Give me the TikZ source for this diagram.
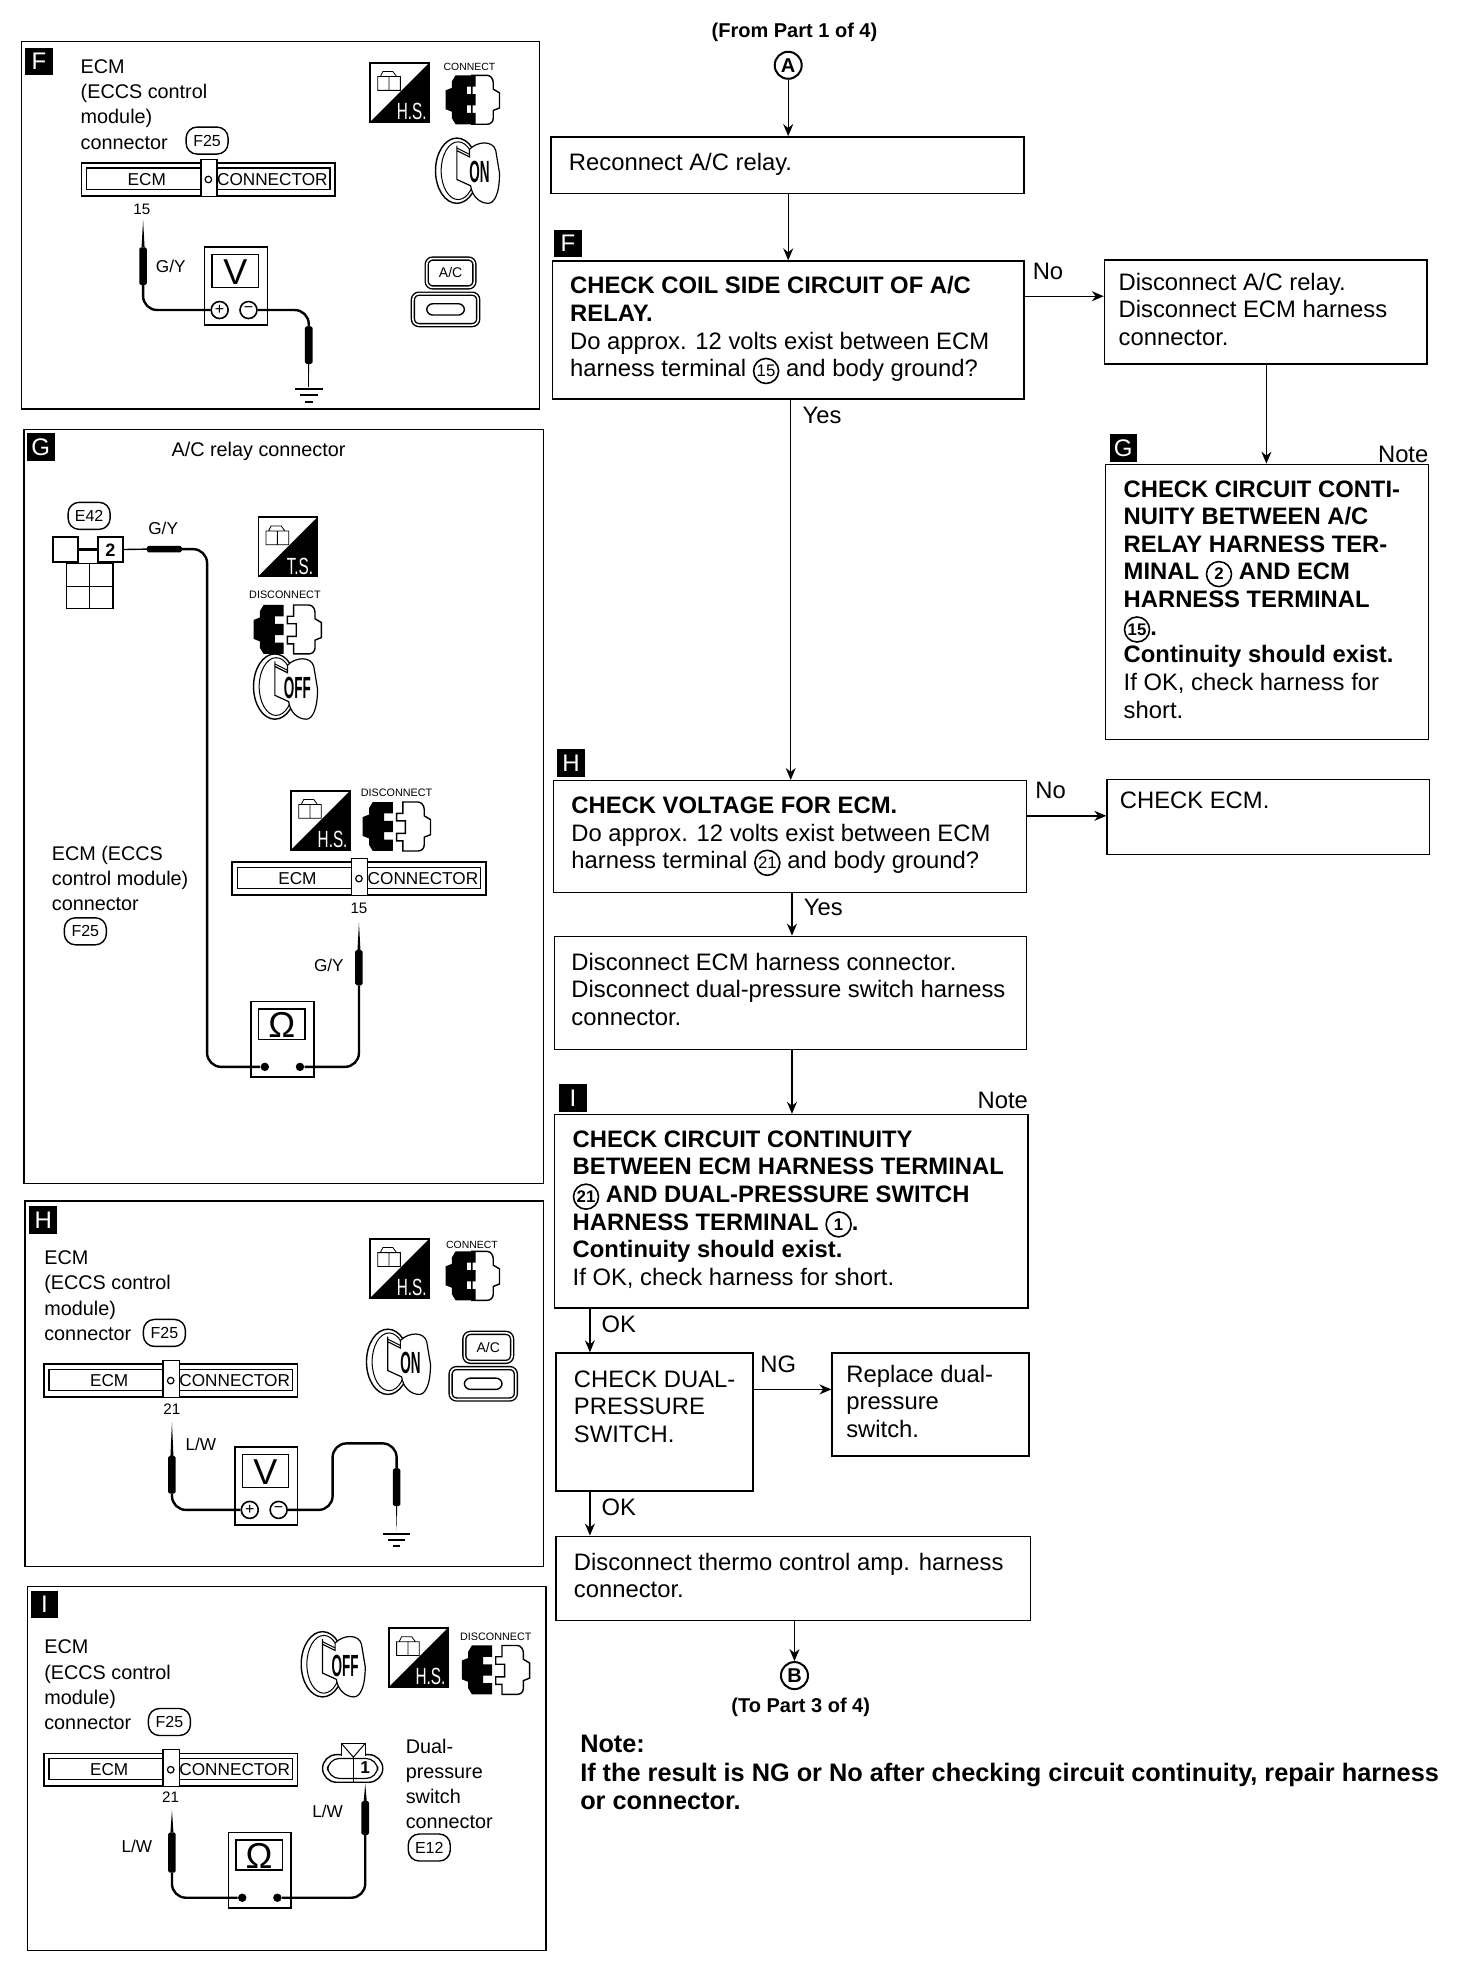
\documentclass[tikz,border=0pt]{standalone}
\usepackage{fontspec}
\setmainfont{Liberation Sans}
\usetikzlibrary{arrows.meta,fit,calc}
\newcommand\cn[1]{\tikz[baseline=(cnode.base)]\node[circle,draw,line width=.8pt,inner sep=0pt,minimum size=12.5pt,font=\fontsize{8.4}{10}\selectfont] (cnode) {#1};}
\tikzset{
  boxline/.style={draw,line width=.7pt},
  flow/.style={line width=.7pt,-{Stealth[length=6pt,width=5pt]}},
  ftxt/.style={anchor=north west,inner sep=0pt,align=left,font=\fontsize{11.9}{13.8}\selectfont},
  ptxt/.style={anchor=north west,inner sep=0pt,align=left,font=\fontsize{9.9}{12.55}\selectfont},
  lab/.style={inner sep=0pt,font=\fontsize{11.9}{13.8}\selectfont},
  smlab/.style={inner sep=0pt,font=\fontsize{8.6}{10}\selectfont},
  oval/.style={draw,line width=.7pt,rounded corners=5.5pt,minimum width=21pt,minimum height=13.5pt,inner sep=0pt,font=\fontsize{8}{9}\selectfont},
  letterbox/.style={fill=black,text=white,minimum size=13.8pt,inner sep=0pt,font=\fontsize{12}{12}\selectfont},
  wire/.style={line width=1.2pt,rounded corners=7pt},
  circlab/.style={circle,draw,line width=1pt,minimum size=13.5pt,inner sep=0pt,font=\bfseries\fontsize{10}{10}\selectfont},
  ecmconn/.pic={
    \draw[line width=.9pt] (0,0) rectangle (202,26);
    \draw[line width=.7pt] (4,4) rectangle (198,21);
    \draw[fill=white,line width=.7pt] (95,26) -- (95,-3) -- (108,-3) -- (108,26);
    \draw[line width=.6pt] (101,13) circle[radius=2.6];
    \node[smlab] (-e) at (52,13) {ECM};
    \node[smlab] (-c) at (152,13) {CONNECTOR};
  },
  hsicon/.pic={
    \draw[line width=.8pt] (0,0) rectangle (47,47);
    \fill (47,0) -- (47,47) -- (0,47) -- cycle;
    \draw[line width=.4pt] (6,11) rectangle (15,22) (15,11) rectangle (24,22) (8,11) -- (10,7) -- (18,7) -- (21,11);
    \node[inner sep=0pt,text=white,font=\fontsize{9}{9}\selectfont] (-t) at (33,39) {\scalebox{.85}[1.3]{#1}};
  },
  connplug/.pic={
    \draw[fill=white,line width=.7pt] (32,0) -- (44,0) .. controls (47,0) and (49,3) .. (49,6) -- (49,11) -- (54,14) -- (54,26) -- (49,28) -- (49,34) .. controls (49,37) and (47,39) .. (44,39) -- (32,39) -- (32,31) -- (27,31) -- (27,25) -- (34,25) -- (34,15) -- (27,15) -- (27,9) -- (32,9) -- cycle;
    \fill (8,0) -- (24,0) -- (24,9) -- (17,9) -- (17,15) -- (24,15) -- (24,24) -- (17,24) -- (17,30) -- (24,30) -- (24,39) -- (8,39) -- (5,34) -- (5,29) -- (0,27) -- (0,12) -- (5,10) -- (5,5) -- cycle;
  },
  connjoin/.pic={
    \draw[fill=white,line width=.7pt] (21,0) -- (33,0) .. controls (36,0) and (38,3) .. (38,6) -- (38,11) -- (43,14) -- (43,26) -- (38,28) -- (38,34) .. controls (38,37) and (36,39) .. (33,39) -- (21,39) -- cycle;
    \fill (8,0) -- (24,0) -- (24,9) -- (17,9) -- (17,15) -- (24,15) -- (24,24) -- (17,24) -- (17,30) -- (24,30) -- (24,39) -- (8,39) -- (5,34) -- (5,29) -- (0,27) -- (0,12) -- (5,10) -- (5,5) -- cycle;
  },
  keyicon/.pic={
    \draw[line width=.7pt] (17,26) ellipse[x radius=17,y radius=26];
    \draw[line width=.5pt] (18,26) ellipse[x radius=13.5,y radius=23];
    \draw[fill=white,line width=.6pt] (27,9) .. controls (34,2) and (46,2) .. (48,10) -- (51,28) .. controls (51,44) and (47,52) .. (42,52) .. controls (35,52) and (29,46) .. (28,38) -- (17,33) -- (17,6) -- (17,10) -- (27,15) -- cycle;
    \draw[line width=.5pt] (17,8) -- (27,13);
    \node[inner sep=0pt,font=\bfseries\fontsize{9}{9}\selectfont] (-t) at (35,27) {\scalebox{.75}[1.7]{#1}};
  },
  acicon/.pic={
    \draw[line width=.7pt,double,double distance=.8pt,rounded corners=3pt] (11,1) rectangle (49,24);
    \node[inner sep=0pt,font=\fontsize{7}{8}\selectfont] (-t) at (30,12.5) {A/C};
    \draw[line width=.7pt,double,double distance=.8pt,rounded corners=3pt] (0,29) rectangle (52,54);
    \draw[line width=.7pt,rounded corners=3pt] (11,37) rectangle (41,46);
  },
  vmeter/.pic={
    \draw[line width=.8pt,fill=white] (0,0) rectangle (50,62);
    \draw[line width=.7pt] (6,6) rectangle (43,32);
    \node[inner sep=0pt,font=\fontsize{18}{18}\selectfont] (-s) at (24.5,19.5) {V};
    \node[circle,draw,line width=.8pt,minimum size=8.5pt,inner sep=0pt,fill=white,font=\fontsize{8}{8}\selectfont] (-p) at (12,50) {+};
    \node[circle,draw,line width=.8pt,minimum size=8.5pt,inner sep=0pt,fill=white,font=\fontsize{8}{8}\selectfont] (-m) at (35,50) {−};
  },
  ometer/.pic={
    \draw[line width=.8pt,fill=white] (0,0) rectangle (50,60);
    \draw[line width=.7pt] (6,6) rectangle (43,30);
    \node[inner sep=0pt,font=\fontsize{18}{18}\selectfont] (-s) at (24.5,18.5) {Ω};
    \node[circle,fill,minimum size=4.2pt,inner sep=0pt] (-p) at (11,52) {};
    \node[circle,fill,minimum size=4.2pt,inner sep=0pt] (-m) at (39,52) {};
  },
  gnd/.pic={
    \draw[line width=.9pt] (-11,0) -- (11,0) (-7,5) -- (7,5) (-3,10) -- (3,10);
  }
}
% vertical probe: x, tip y, body top y, body bottom y
\newcommand\vprobe[4]{\fill (#1,#2) -- (#1+1.2,#3) -- (#1-1.2,#3) -- cycle; \fill[rounded corners=.8pt] (#1-3,#3) rectangle (#1+3,#4);}
% flow box
\newcommand\fcbox[5]{\node[boxline,fit={(#2,#3) (#4,#5)},inner sep=0pt] (#1) {};}
% text in a box, x, centre y of first line
\newcommand\ftx[4]{\node[ftxt] (#1) at (#2,#3-8.6) {\strut #4};}
\newcommand\ptx[4]{\node[ptxt] (#1) at (#2,#3-8.6) {\strut #4};}
\begin{document}
\begin{tikzpicture}[x=0.62745pt,y=-0.62745pt]
\lineskiplimit=-20pt\relax
\useasboundingbox (0,0) rectangle (1173,1568);
% ===== flow chart =====
\node[inner sep=0pt,font=\bfseries\fontsize{10}{11}\selectfont] (fromp) at (633,26) {(From Part 1 of 4)};
\node[circlab] (A) at (628,52) {A};
\fcbox{b1}{439}{109}{816}{154}
\ftx{b1t}{453}{129}{Reconnect A/C relay.}
\node[letterbox] (lF) at (452.5,194) {F};
\fcbox{b2}{440}{208}{816}{318}
\ftx{b2t}{454}{227}{\textbf{CHECK COIL SIDE CIRCUIT OF A/C}\\\textbf{RELAY.}\\Do approx. 12 volts exist between ECM\\harness terminal \cn{15} and body ground?}
\fcbox{b3}{880}{207}{1137}{290}
\ftx{b3t}{891}{224}{Disconnect A/C relay.\\Disconnect ECM harness\\connector.}
\node[letterbox] (lG) at (895,357) {G};
\node[lab] (n1) at (1118,362) {Note};
\fcbox{b4}{881}{370}{1138}{589}
\ftx{b4t}{895}{389}{\textbf{CHECK CIRCUIT CONTI-}\\\textbf{NUITY BETWEEN A/C}\\\textbf{RELAY HARNESS TER-}\\\textbf{MINAL \cn{2} AND ECM}\\\textbf{HARNESS TERMINAL}\\\textbf{\cn{15}.}\\\textbf{Continuity should exist.}\\If OK, check harness for\\short.}
\node[letterbox] (lH) at (455,608) {H};
\fcbox{b5}{441}{622}{818}{711}
\ftx{b5t}{455}{641}{\textbf{CHECK VOLTAGE FOR ECM.}\\Do approx. 12 volts exist between ECM\\harness terminal \cn{21} and body ground?}
\fcbox{b6}{882}{621}{1139}{681}
\ftx{b6t}{892}{637}{CHECK ECM.}
\fcbox{b7}{442}{746}{818}{836}
\ftx{b7t}{455}{766}{Disconnect ECM harness connector.\\Disconnect dual-pressure switch harness\\connector.}
\node[letterbox] (lI) at (456.5,875) {I};
\node[lab] (n2) at (799,877) {Note};
\fcbox{b8}{442}{888}{819}{1042}
\ftx{b8t}{456}{907}{\textbf{CHECK CIRCUIT CONTINUITY}\\\textbf{BETWEEN ECM HARNESS TERMINAL}\\\textbf{\cn{21} AND DUAL-PRESSURE SWITCH}\\\textbf{HARNESS TERMINAL \cn{1}.}\\\textbf{Continuity should exist.}\\If OK, check harness for short.}
\fcbox{b9}{443}{1078}{600}{1188}
\ftx{b9t}{457}{1098}{CHECK DUAL-\\PRESSURE\\SWITCH.}
\fcbox{b10}{663}{1078}{820}{1160}
\ftx{b10t}{674}{1094}{Replace dual-\\pressure\\switch.}
\fcbox{b11}{443}{1224}{821}{1291}
\ftx{b11t}{457}{1244}{Disconnect thermo control amp. harness\\connector.}
\node[circlab] (B) at (633,1335) {B};
\node[inner sep=0pt,font=\bfseries\fontsize{10}{11}\selectfont] (top) at (638,1360) {(To Part 3 of 4)};
\node[ftxt,font=\fontsize{12.65}{14.2}\selectfont] (notet) at (462,1389-8.8) {\strut\textbf{Note:}\\\textbf{If the result is NG or No after checking circuit continuity, repair harness}\\\textbf{or connector.}};
\node[lab] (l1) at (835,216) {No};
\node[lab] (l2) at (655,331) {Yes};
\node[lab] (l3) at (837,630) {No};
\node[lab] (l4) at (656,723) {Yes};
\node[lab] (l5) at (493,1055) {OK};
\node[lab] (l6) at (620,1087) {NG};
\node[lab] (l7) at (493,1201) {OK};
% helper columns and rows for the connectors
\coordinate (xa) at (628,0);
\coordinate (xb) at (1009,0);
\coordinate (xc) at (630,0);
\coordinate (xd) at (631,0);
\coordinate (xe) at (470,0);
\coordinate (xf) at (633,0);
\coordinate (ya) at (0,236);
\coordinate (yb) at (0,650);
\coordinate (yc) at (0,1107);
\draw[flow] (A) -- (b1.north -| xa);
\draw[flow] (b1.south -| xa) -- (b2.north -| xa);
\draw[flow] (b2.east |- ya) -- (b3.west |- ya);
\draw[flow] (b3.south -| xb) -- (b4.north -| xb);
\draw[flow] (b2.south -| xc) -- (b5.north -| xc);
\draw[flow] (b5.east |- yb) -- (b6.west |- yb);
\draw[flow] (b5.south -| xd) -- (b7.north -| xd);
\draw[flow] (b7.south -| xd) -- (b8.north -| xd);
\draw[flow] (b8.south -| xe) -- (b9.north -| xe);
\draw[flow] (b9.east |- yc) -- (b10.west |- yc);
\draw[flow] (b9.south -| xe) -- (b11.north -| xe);
\draw[flow] (b11.south -| xf) -- (B);
% ===== panel F =====
\fcbox{pF}{17}{33}{430}{326}
\node[letterbox] (pFl) at (31,49) {F};
\ptx{pFt}{64}{53}{ECM\\(ECCS control\\module)\\connector}
\node[oval] (pFo) at (165,112) {F25};
\pic (pFc) at (65,130) {ecmconn};
\node[smlab,font=\fontsize{7.6}{8}\selectfont] (pF15) at (113,167) {15};
\node[smlab] (pFgy) at (136,212) {G/Y};
\pic at (295,50) {hsicon=H.S.};
\node[inner sep=0pt,font=\fontsize{5.2}{6}\selectfont] (pFcc) at (374,53) {CONNECT};
\pic at (355,60) {connjoin};
\pic at (347,110) {keyicon=ON};
\pic at (329,205) {acicon};
\pic (pFm) at (163,197) {vmeter};
\vprobe{114}{175}{197}{227}
\vprobe{246}{305}{260}{290}
\coordinate (pFa) at (114,227);
\coordinate (pFb) at (246,260);
\draw[wire] (pFa) |- (pFm-p);
\draw[wire] (pFm-m) -| (pFb);
\draw[line width=.7pt] (246,290) -- (246,308);
\pic at (246,310) {gnd};
% ===== panel G =====
\fcbox{pG}{19}{342}{433}{943}
\node[letterbox] (pGl) at (32.5,356) {G};
\node[inner sep=0pt,font=\fontsize{9.9}{12}\selectfont] (pGt) at (206,360) {A/C relay connector};
\node[oval] (pGo) at (71,411) {E42};
\draw[line width=.6pt] (53,449) rectangle (90,485) (71.5,449) -- (71.5,485) (53,467) -- (90,467);
\node[draw,fill=white,line width=.8pt,minimum size=12.5pt,inner sep=0pt] (pGa) at (52,438) {};
\node[draw,fill=white,line width=.8pt,minimum size=12.5pt,inner sep=0pt,font=\bfseries\fontsize{9}{9}\selectfont] (pGb) at (88,438) {2};
\draw[line width=1.3pt] (pGa) -- (pGb);
\node[smlab] (pGgy) at (130,421) {G/Y};
\pic at (206,412) {hsicon=T.S.};
\node[inner sep=0pt,font=\fontsize{5.4}{6}\selectfont] (pGd) at (227,474) {DISCONNECT};
\pic at (202,482) {connplug};
\pic at (202,521) {keyicon=OFF};
\pic at (232,630) {hsicon=H.S.};
\node[inner sep=0pt,font=\fontsize{5.4}{6}\selectfont] (pGe) at (316,632) {DISCONNECT};
\pic at (289,639) {connplug};
\pic (pGc) at (185,687) {ecmconn};
\node[smlab,font=\fontsize{7.6}{8}\selectfont] (pG15) at (286,724) {15};
\node[smlab] (pGgz) at (262,769) {G/Y};
\ptx{pGs}{41}{680}{ECM (ECCS\\control module)\\connector}
\node[oval] (pGf) at (68,742) {F25};
\pic (pGm) at (200,798) {ometer};
\vprobe{286}{735}{757}{785}
\coordinate (pGh) at (286,785);
\fill[rounded corners=.8pt] (117,435) rectangle (145,440);
\draw[line width=.7pt] (pGb) -- (117,437.5);
\draw[wire] (145,437.5) -- (165,437.5) |- (pGm-p);
\draw[wire] (pGm-m) -| (pGh);
% ===== panel H =====
\fcbox{pH}{20}{957}{433}{1248}
\node[letterbox] (pHl) at (34.5,972) {H};
\ptx{pHt}{35}{1002}{ECM\\(ECCS control\\module)\\connector}
\node[oval] (pHo) at (131,1062) {F25};
\pic (pHc) at (35,1087) {ecmconn};
\node[smlab,font=\fontsize{7.6}{8}\selectfont] (pH21) at (137,1123) {21};
\node[smlab] (pHlw) at (160,1151) {L/W};
\pic at (295,987) {hsicon=H.S.};
\node[inner sep=0pt,font=\fontsize{5.2}{6}\selectfont] (pHcc) at (376,992) {CONNECT};
\pic at (355,997) {connjoin};
\pic at (292,1059) {keyicon=ON};
\pic at (359,1061) {acicon};
\pic (pHm) at (187,1153) {vmeter};
\vprobe{137}{1133}{1160}{1190}
\vprobe{316}{1220}{1170}{1200}
\coordinate (pHa) at (137,1190);
\coordinate (pHb) at (316,1170);
\draw[wire] (pHa) |- (pHm-p);
\draw[wire] (pHm-m) -- (265,1203) -- (265,1150) -- (316,1150) -- (pHb);
\pic at (316,1222) {gnd};
% ===== panel I =====
\fcbox{pI}{22}{1264}{435}{1554}
\node[letterbox] (pIl) at (35.5,1278.5) {I};
\ptx{pIt}{35}{1312}{ECM\\(ECCS control\\module)\\connector}
\node[oval] (pIo) at (135,1372) {F25};
\pic (pIc) at (35,1397) {ecmconn};
\node[smlab,font=\fontsize{7.6}{8}\selectfont] (pI21) at (136,1432) {21};
\node[smlab] (pIl1) at (109,1471) {L/W};
\node[smlab] (pIl2) at (261,1443) {L/W};
\pic at (240,1300) {keyicon=OFF};
\pic at (310,1297) {hsicon=H.S.};
\node[inner sep=0pt,font=\fontsize{5.4}{6}\selectfont] (pId) at (395,1304) {DISCONNECT};
\pic at (368,1311) {connplug};
\draw[line width=.7pt,rounded corners=7pt] (257,1398) rectangle (305,1420);
\draw[line width=.6pt,rounded corners=6pt] (261,1401) rectangle (301,1417);
\draw[line width=.7pt,fill=white] (272,1399) -- (272,1389) -- (291,1389) -- (291,1399);
\draw[line width=.5pt] (272,1389) -- (281.5,1400) -- (291,1389);
\draw[line width=.7pt] (281.5,1400) -- (281.5,1420);
\node[inner sep=0pt,font=\bfseries\fontsize{8.6}{9}\selectfont] (pI1) at (291,1408) {1};
\ptx{pIs}{323}{1391}{Dual-\\pressure\\switch\\connector}
\node[oval] (pIe) at (342,1472) {E12};
\pic (pIm) at (182,1460) {ometer};
\vprobe{137}{1442}{1460}{1492}
\vprobe{291}{1421}{1435}{1462}
\coordinate (pIa) at (137,1492);
\coordinate (pIb) at (291,1462);
\draw[wire] (pIa) |- (pIm-p);
\draw[wire] (pIm-m) -| (pIb);
\end{tikzpicture}
\end{document}
